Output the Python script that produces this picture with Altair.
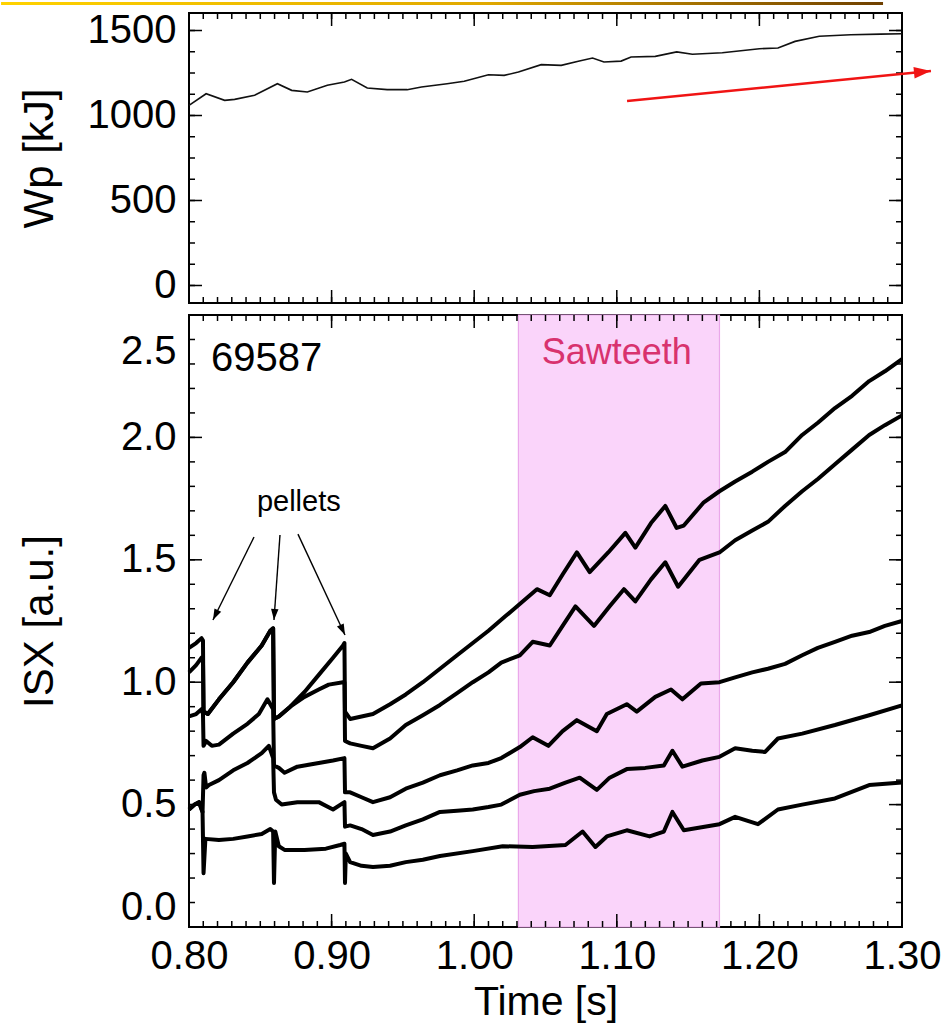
import math
import altair as alt
import pandas as pd

FONT = "Liberation Sans"

# ---------------- data ----------------
# Top panel: stored energy Wp [kJ] vs time [s]
WP = [(0.800, 1060), (0.812, 1128), (0.825, 1089), (0.832, 1095), (0.846, 1119),
      (0.862, 1187), (0.872, 1148), (0.883, 1138), (0.897, 1178), (0.909, 1197),
      (0.914, 1213), (0.925, 1162), (0.939, 1152), (0.953, 1152), (0.963, 1168),
      (0.981, 1187), (0.993, 1201), (1.010, 1240), (1.021, 1236), (1.031, 1256),
      (1.047, 1299), (1.061, 1295), (1.073, 1319), (1.083, 1338), (1.091, 1315),
      (1.103, 1320), (1.110, 1344), (1.127, 1348), (1.142, 1374), (1.153, 1360),
      (1.174, 1369), (1.200, 1393), (1.213, 1397), (1.225, 1436), (1.242, 1466),
      (1.264, 1475), (1.285, 1479), (1.300, 1481)]

# Bottom panel: five ISX chords [a.u.] vs time [s]
ISX_1 = [(0.800, 1.14), (0.805, 1.16), (0.8088, 1.18), (0.8098, 1.17), (0.8102, 0.88),
         (0.8132, 0.87), (0.821, 0.93), (0.831, 1.00), (0.841, 1.08), (0.851, 1.15),
         (0.857, 1.21), (0.8590, 1.22), (0.8596, 0.85), (0.863, 0.86), (0.871, 0.90),
         (0.881, 0.96), (0.891, 1.03), (0.901, 1.10), (0.908, 1.15), (0.9090, 1.16),
         (0.9094, 0.88), (0.913, 0.85), (0.921, 0.86), (0.929, 0.87), (0.941, 0.91),
         (0.952, 0.95), (0.964, 1.00), (0.976, 1.055), (0.988, 1.11), (0.999, 1.16),
         (1.010, 1.21), (1.022, 1.27), (1.034, 1.33), (1.044, 1.38), (1.053, 1.355),
         (1.062, 1.44), (1.072, 1.53), (1.081, 1.45), (1.094, 1.53), (1.106, 1.61),
         (1.113, 1.55), (1.124, 1.65), (1.134, 1.72), (1.142, 1.63), (1.147, 1.64),
         (1.161, 1.735), (1.172, 1.78), (1.183, 1.82), (1.195, 1.86), (1.206, 1.90),
         (1.218, 1.94), (1.230, 2.01), (1.241, 2.06), (1.253, 2.12), (1.265, 2.17),
         (1.277, 2.23), (1.288, 2.27), (1.300, 2.32)]
ISX_2 = [(0.800, 1.04), (0.805, 1.07), (0.8088, 1.10), (0.8098, 1.09), (0.8102, 0.88),
         (0.8132, 0.87), (0.821, 0.93), (0.831, 1.00), (0.841, 1.08), (0.851, 1.15),
         (0.857, 1.21), (0.8590, 1.22), (0.8596, 0.85), (0.863, 0.86), (0.871, 0.90),
         (0.881, 0.94), (0.891, 0.97), (0.898, 0.99), (0.908, 1.00), (0.9090, 1.00),
         (0.9094, 0.76), (0.913, 0.75), (0.921, 0.74), (0.929, 0.73), (0.941, 0.77),
         (0.952, 0.825), (0.964, 0.865), (0.976, 0.907), (0.988, 0.955), (0.999, 1.00),
         (1.010, 1.04), (1.019, 1.08), (1.032, 1.11), (1.041, 1.165), (1.053, 1.15),
         (1.062, 1.23), (1.071, 1.31), (1.084, 1.23), (1.095, 1.31), (1.105, 1.38),
         (1.113, 1.33), (1.124, 1.42), (1.134, 1.49), (1.143, 1.39), (1.158, 1.50),
         (1.172, 1.53), (1.183, 1.58), (1.195, 1.62), (1.206, 1.655), (1.218, 1.72),
         (1.230, 1.78), (1.241, 1.83), (1.253, 1.89), (1.265, 1.95), (1.277, 2.01),
         (1.288, 2.05), (1.300, 2.09)]
ISX_3 = [(0.800, 0.86), (0.805, 0.87), (0.8088, 0.89), (0.8098, 0.87), (0.8102, 0.74),
         (0.812, 0.76), (0.816, 0.74), (0.821, 0.745), (0.831, 0.79), (0.841, 0.83),
         (0.849, 0.87), (0.855, 0.93), (0.8590, 0.89), (0.8596, 0.66), (0.863, 0.65),
         (0.867, 0.63), (0.876, 0.655), (0.891, 0.67), (0.901, 0.68), (0.9090, 0.69),
         (0.9094, 0.55), (0.913, 0.55), (0.921, 0.53), (0.929, 0.51), (0.941, 0.53),
         (0.952, 0.565), (0.964, 0.59), (0.976, 0.62), (0.988, 0.64), (0.999, 0.66),
         (1.010, 0.67), (1.019, 0.69), (1.032, 0.735), (1.041, 0.775), (1.052, 0.74),
         (1.062, 0.80), (1.072, 0.845), (1.086, 0.80), (1.093, 0.87), (1.107, 0.91),
         (1.114, 0.88), (1.127, 0.94), (1.138, 0.97), (1.146, 0.93), (1.159, 0.995),
         (1.172, 1.00), (1.183, 1.02), (1.195, 1.04), (1.206, 1.055), (1.218, 1.075),
         (1.230, 1.11), (1.241, 1.14), (1.253, 1.165), (1.265, 1.19), (1.277, 1.205),
         (1.288, 1.23), (1.300, 1.25)]
ISX_4 = [(0.800, 0.48), (0.804, 0.50), (0.807, 0.51), (0.8095, 0.47), (0.8102, 0.62),
         (0.8108, 0.63), (0.812, 0.57), (0.814, 0.58), (0.821, 0.60), (0.831, 0.64),
         (0.841, 0.67), (0.851, 0.71), (0.856, 0.74), (0.8590, 0.69), (0.8596, 0.55),
         (0.861, 0.52), (0.865, 0.50), (0.876, 0.51), (0.891, 0.51), (0.901, 0.48),
         (0.9090, 0.51), (0.9094, 0.41), (0.913, 0.415), (0.921, 0.40), (0.929, 0.376),
         (0.941, 0.39), (0.952, 0.415), (0.964, 0.44), (0.976, 0.47), (0.988, 0.475),
         (0.999, 0.48), (1.010, 0.49), (1.019, 0.50), (1.032, 0.54), (1.042, 0.555),
         (1.053, 0.565), (1.064, 0.59), (1.074, 0.61), (1.086, 0.56), (1.095, 0.61),
         (1.107, 0.645), (1.120, 0.65), (1.133, 0.66), (1.139, 0.72), (1.146, 0.655),
         (1.160, 0.68), (1.172, 0.695), (1.183, 0.73), (1.195, 0.72), (1.204, 0.715),
         (1.213, 0.77), (1.230, 0.79), (1.253, 0.825), (1.277, 0.865), (1.300, 0.905)]
ISX_5 = [(0.800, 0.48), (0.804, 0.50), (0.807, 0.51), (0.8095, 0.47), (0.8102, 0.22),
         (0.8115, 0.36), (0.821, 0.355), (0.831, 0.36), (0.841, 0.37), (0.851, 0.38),
         (0.857, 0.40), (0.8590, 0.39), (0.8596, 0.18), (0.8605, 0.39), (0.863, 0.33),
         (0.867, 0.315), (0.881, 0.315), (0.896, 0.32), (0.906, 0.335), (0.9090, 0.34),
         (0.9094, 0.18), (0.9100, 0.30), (0.913, 0.265), (0.921, 0.25), (0.929, 0.245),
         (0.941, 0.25), (0.952, 0.265), (0.964, 0.275), (0.976, 0.29), (0.999, 0.31),
         (1.020, 0.33), (1.041, 0.327), (1.064, 0.335), (1.076, 0.39), (1.085, 0.327),
         (1.093, 0.37), (1.107, 0.395), (1.123, 0.37), (1.133, 0.39), (1.139, 0.47),
         (1.147, 0.395), (1.172, 0.42), (1.183, 0.45), (1.199, 0.42), (1.213, 0.48),
         (1.230, 0.50), (1.253, 0.525), (1.277, 0.58), (1.300, 0.59)]

SAWTEETH_START, SAWTEETH_END = 1.031, 1.172

# annotation anchors (data coordinates)
SHOT_LABEL = ("69587", 0.8155, 2.32)
SAW_LABEL = ("Sawteeth", 1.100, 2.345)
PELLET_LABEL = ("pellets", 0.877, 1.736)
PELLET_ARROW_T0 = [0.8456, 0.8638, 0.8764]
PELLET_ARROW_V0 = [1.593, 1.601, 1.605]
PELLET_ARROW_T1 = [0.8168, 0.8596, 0.9094]
PELLET_ARROW_V1 = [1.254, 1.254, 1.193]
RED_ARROW = (1.1072, 1085, 1.3203, 1262)   # t0, Wp0, t1, Wp1
BANNER = (0.6682, 1.2867, 1650, 1668)       # slide banner strip above the plot

# axis ticks
X_LABELS = [0.80, 0.90, 1.00, 1.10, 1.20, 1.30]
X_MINOR = [round(0.80 + 0.01 * i, 2) for i in range(51)]
WP_LABELS = [0, 500, 1000, 1500]
WP_MINOR = [125 * i for i in range(13)]
ISX_LABELS = [0.0, 0.5, 1.0, 1.5, 2.0, 2.5]
ISX_MINOR = [round(0.1 * i, 1) for i in range(26)]

# ---------------- layout ----------------
W = 713
H1 = 290
H2 = 612
X_DOMAIN = [0.8, 1.3]
WP_DOMAIN = [-103, 1603]
ISX_DOMAIN = [0.0, 2.5]
PX_T = W / (X_DOMAIN[1] - X_DOMAIN[0])
PX_WP = H1 / (WP_DOMAIN[1] - WP_DOMAIN[0])
PX_ISX = H2 / (ISX_DOMAIN[1] - ISX_DOMAIN[0])

ARROW_SHAPE = "M0,0L-0.34,1L0.34,1Z"


def heading(dt, dv, sy):
    dx = dt * PX_T
    dy = -dv * sy
    return math.degrees(math.atan2(dx, -dy)) % 360


def tick_layers(xs, ys, xax, yax, h, xmaj, xmin, ymaj, ymin):
    layers = []
    for vals, ln in ((xmaj, 13), (xmin, 6)):
        d = pd.DataFrame({"t": vals})
        base = alt.Chart(d).mark_rule(color="black", strokeWidth=1.5)
        layers.append(base.encode(x=alt.X("t:Q", scale=xs, axis=xax),
                                  y=alt.value(h), y2=alt.value(h - ln)))
        layers.append(base.encode(x=alt.X("t:Q", scale=xs, axis=xax),
                                  y=alt.value(0), y2=alt.value(ln)))
    for vals, ln in ((ymaj, 13), (ymin, 6)):
        d = pd.DataFrame({"v": vals})
        base = alt.Chart(d).mark_rule(color="black", strokeWidth=1.5)
        layers.append(base.encode(y=alt.Y("v:Q", scale=ys, axis=yax),
                                  x=alt.value(0), x2=alt.value(ln)))
        layers.append(base.encode(y=alt.Y("v:Q", scale=ys, axis=yax),
                                  x=alt.value(W), x2=alt.value(W - ln)))
    return layers


# ---------------- top panel ----------------
xs_top = alt.Scale(domain=X_DOMAIN, nice=False, zero=False)
ys_top = alt.Scale(domain=WP_DOMAIN, nice=False, zero=False)
yax_top = alt.Axis(values=WP_LABELS, format="d", ticks=False, domain=False, grid=False,
                   labelFontSize=40, labelPadding=13, labelFont=FONT, labelColor="black",
                   title="Wp [kJ]", titleFont=FONT, titleFontSize=42, titleFontWeight="normal",
                   titleColor="black", titleAngle=270, titleAlign="center",
                   titleBaseline="alphabetic", titleX=-137, titleY=H1 / 2)

wp_df = pd.DataFrame(WP, columns=["t", "v"])
wp_line = alt.Chart(wp_df).mark_line(color="#111111", strokeWidth=1.6).encode(
    x=alt.X("t:Q", scale=xs_top, axis=None),
    y=alt.Y("v:Q", scale=ys_top, axis=yax_top))

banner_df = pd.DataFrame([{"t": BANNER[0], "t2": BANNER[1], "v": BANNER[2], "v2": BANNER[3]}])
banner = alt.Chart(banner_df).mark_rect(
    fill=alt.Gradient(gradient="linear", x1=0, x2=1, y1=0, y2=0,
                      stops=[alt.GradientStop(color="#ffd200", offset=0),
                             alt.GradientStop(color="#e0a800", offset=0.55),
                             alt.GradientStop(color="#6e3f00", offset=1)]),
    strokeWidth=0).encode(
    x=alt.X("t:Q", scale=xs_top, axis=None), x2="t2:Q",
    y=alt.Y("v:Q", scale=ys_top, axis=yax_top), y2="v2:Q")

ra_df = pd.DataFrame([{"t": RED_ARROW[0], "v": RED_ARROW[1],
                       "t2": RED_ARROW[2], "v2": RED_ARROW[3]}])
red_line = alt.Chart(ra_df).mark_rule(color="#f01414", strokeWidth=2.5).encode(
    x=alt.X("t:Q", scale=xs_top, axis=None), x2="t2:Q",
    y=alt.Y("v:Q", scale=ys_top, axis=yax_top), y2="v2:Q")
rh_df = pd.DataFrame([{"t": RED_ARROW[2], "v": RED_ARROW[3],
                       "ang": heading(RED_ARROW[2] - RED_ARROW[0], RED_ARROW[3] - RED_ARROW[1], PX_WP)}])
red_head = alt.Chart(rh_df).mark_point(shape=ARROW_SHAPE, filled=True, size=1156,
                                       color="#f01414", opacity=1).encode(
    x=alt.X("t:Q", scale=xs_top, axis=None),
    y=alt.Y("v:Q", scale=ys_top, axis=yax_top),
    angle=alt.Angle("ang:Q", scale=None))

top = alt.layer(
    banner,
    *tick_layers(xs_top, ys_top, None, yax_top, H1, X_LABELS, X_MINOR, WP_LABELS, WP_MINOR),
    wp_line, red_line, red_head,
).properties(width=W, height=H1)

# ---------------- bottom panel ----------------
xs_bot = alt.Scale(domain=X_DOMAIN, nice=False, zero=False)
ys_bot = alt.Scale(domain=ISX_DOMAIN, nice=False, zero=False)
xax_bot = alt.Axis(values=X_LABELS, format=".2f", ticks=False, domain=False, grid=False,
                   labelFlush=False, labelFontSize=40, labelPadding=9, labelFont=FONT,
                   labelColor="black", title="Time [s]", titleFont=FONT, titleFontSize=41,
                   titleFontWeight="normal", titleColor="black", titlePadding=6)
yax_bot = alt.Axis(values=ISX_LABELS, format=".1f", ticks=False, domain=False, grid=False,
                   labelFontSize=40, labelPadding=13, labelFont=FONT, labelColor="black",
                   labelLineHeight=72,
                   labelBaseline={"condition": [{"test": "datum.value >= 2.49", "value": "line-top"},
                                                {"test": "datum.value <= 0.01", "value": "bottom"}],
                                  "value": "middle"},
                   title="ISX [a.u.]", titleFont=FONT, titleFontSize=42, titleFontWeight="normal",
                   titleColor="black", titleAngle=270, titleAlign="center",
                   titleBaseline="alphabetic", titleX=-137, titleY=H2 / 2)

band_df = pd.DataFrame([{"t": SAWTEETH_START, "t2": SAWTEETH_END}])
band = alt.Chart(band_df).mark_rect(fill="#fad4fa", stroke="#eaa8ea", strokeWidth=1.2).encode(
    x=alt.X("t:Q", scale=xs_bot, axis=xax_bot), x2="t2:Q")

rows = []
for name, series in (("c1", ISX_1), ("c2", ISX_2), ("c3", ISX_3), ("c4", ISX_4), ("c5", ISX_5)):
    for i, (t, v) in enumerate(series):
        rows.append({"trace": name, "i": i, "t": t, "v": v})
isx_df = pd.DataFrame(rows)
traces = alt.Chart(isx_df).mark_line(color="black", strokeWidth=4.0, strokeJoin="round").encode(
    x=alt.X("t:Q", scale=xs_bot, axis=xax_bot),
    y=alt.Y("v:Q", scale=ys_bot, axis=yax_bot),
    detail="trace:N", order="i:Q")

pa_df = pd.DataFrame({"t": PELLET_ARROW_T0, "v": PELLET_ARROW_V0,
                      "t2": PELLET_ARROW_T1, "v2": PELLET_ARROW_V1})
pa_df["ang"] = [heading(a2 - a1, b2 - b1, PX_ISX) for a1, b1, a2, b2 in
                zip(PELLET_ARROW_T0, PELLET_ARROW_V0, PELLET_ARROW_T1, PELLET_ARROW_V1)]
pel_lines = alt.Chart(pa_df).mark_rule(color="black", strokeWidth=1.4).encode(
    x=alt.X("t:Q", scale=xs_bot, axis=xax_bot), x2="t2:Q",
    y=alt.Y("v:Q", scale=ys_bot, axis=yax_bot), y2="v2:Q")
pel_heads = alt.Chart(pa_df).mark_point(shape=ARROW_SHAPE, filled=True, size=484,
                                        color="black", opacity=1).encode(
    x=alt.X("t2:Q", scale=xs_bot, axis=xax_bot),
    y=alt.Y("v2:Q", scale=ys_bot, axis=yax_bot),
    angle=alt.Angle("ang:Q", scale=None))


def label(spec, size, color, align):
    d = pd.DataFrame([{"txt": spec[0], "t": spec[1], "v": spec[2]}])
    return alt.Chart(d).mark_text(font=FONT, fontSize=size, color=color, align=align,
                                  baseline="middle").encode(
        x=alt.X("t:Q", scale=xs_bot, axis=xax_bot),
        y=alt.Y("v:Q", scale=ys_bot, axis=yax_bot),
        text="txt:N")


bottom = alt.layer(
    band, traces,
    *tick_layers(xs_bot, ys_bot, xax_bot, yax_bot, H2, X_LABELS, X_MINOR, ISX_LABELS, ISX_MINOR),
    pel_lines, pel_heads,
    label(SHOT_LABEL, 40, "black", "left"),
    label(SAW_LABEL, 36, "#d8326e", "center"),
    label(PELLET_LABEL, 29, "black", "center"),
).properties(width=W, height=H2)

chart = alt.vconcat(top, bottom, spacing=12, bounds="flush").properties(
    padding={"left": 0, "top": 0, "right": 0, "bottom": 0},
    background="white",
).configure_view(stroke="black", strokeWidth=2)

chart.save("out.html", embed_options={"renderer": "svg", "actions": False})
